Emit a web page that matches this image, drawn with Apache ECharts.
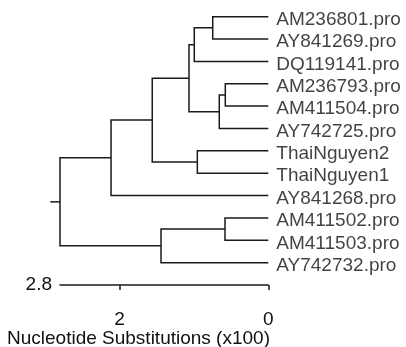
<!DOCTYPE html>
<html>
<head>
<meta charset="utf-8">
<script src="https://cdn.jsdelivr.net/npm/echarts@6/dist/echarts.min.js"></script>
<style>html,body{margin:0;padding:0;background:#fff}#c{width:406px;height:347px}</style>
</head>
<body>
<div id="c"></div>
<script>
// Leaves, top to bottom
const leafNames = ['AM236801.pro','AY841269.pro','DQ119141.pro','AM236793.pro','AM411504.pro','AY742725.pro','ThaiNguyen2','ThaiNguyen1','AY841268.pro','AM411502.pro','AM411503.pro','AY742732.pro'];
// Internal nodes: children (L = leaf index, N = node index) and heights (x100 substitutions)
const nodeLeft  = ['L0','N0','L3','N2','N1','L6','N4','N6','L9','N8','N7'];
const nodeRight = ['L1','L2','L4','L5','N3','L7','N5','L8','L10','L11','N9'];
const nodeHeights = [0.747, 0.995, 0.578, 0.659, 1.066, 0.954, 1.560, 2.114, 0.582, 1.442, 2.80];
const rootStubEnd = 2.93;
const axisTicks = [0, 2];
const axisMax = 2.8;
const axisTitle = 'Nucleotide Substitutions (x100)';

function pos(ref) {
  const i = parseInt(ref.slice(1), 10);
  if (ref[0] === 'L') return { h: 0, y: i };
  const l = pos(nodeLeft[i]), r = pos(nodeRight[i]);
  return { h: nodeHeights[i], y: (l.y + r.y) / 2 };
}
const branchData = [];
nodeHeights.forEach((h, i) => {
  const l = pos(nodeLeft[i]), r = pos(nodeRight[i]);
  branchData.push({ coords: [[l.h, l.y], [h, l.y], [h, r.y], [r.h, r.y]] });
});
const root = pos('N' + (nodeHeights.length - 1));
branchData.push({ coords: [[root.h, root.y], [rootStubEnd, root.y]] });

const FONT = 'Liberation Sans, Arial, sans-serif';
const FS = 19;
const TXT = '#111';
const LINE = '#1a1a1a';

const chart = echarts.init(document.getElementById('c'));
chart.setOption({
  animation: false,
  backgroundColor: '#fff',
  title: {
    text: axisTitle, left: 7, top: 329, padding: 0,
    textStyle: { fontSize: FS, fontWeight: 'normal', color: TXT, fontFamily: FONT }
  },
  grid: { left: 60, right: 137.7, top: 5.5, bottom: 62, containLabel: false, outerBoundsMode: 'none' },
  xAxis: {
    type: 'value', inverse: true, min: 0, max: axisMax,
    name: String(axisMax), nameLocation: 'end', nameGap: 8,
    nameTextStyle: { fontSize: FS, color: TXT, fontFamily: FONT, verticalAlign: 'middle' },
    axisLine: { show: true, onZero: false, lineStyle: { color: LINE, width: 1.5 } },
    axisTick: { show: true, customValues: axisTicks, length: 5, lineStyle: { color: LINE, width: 1.5 } },
    axisLabel: { customValues: axisTicks, margin: 25, fontSize: FS, color: TXT, fontFamily: FONT, formatter: v => String(v) },
    splitLine: { show: false }
  },
  yAxis: { type: 'value', inverse: true, min: -0.5, max: 12, show: false },
  series: [
    {
      type: 'lines', coordinateSystem: 'cartesian2d', polyline: true, clip: false,
      lineStyle: { color: LINE, width: 1.5, opacity: 1 },
      data: branchData
    },
    {
      type: 'scatter', symbolSize: 0, clip: false,
      data: leafNames.map((n, i) => ({ name: n, value: [0, i] })),
      label: { show: true, position: 'right', distance: 8, offset: [0, 3], formatter: p => p.name,
               fontSize: FS, color: TXT, fontFamily: FONT }
    }
  ]
});
</script>
</body>
</html>
